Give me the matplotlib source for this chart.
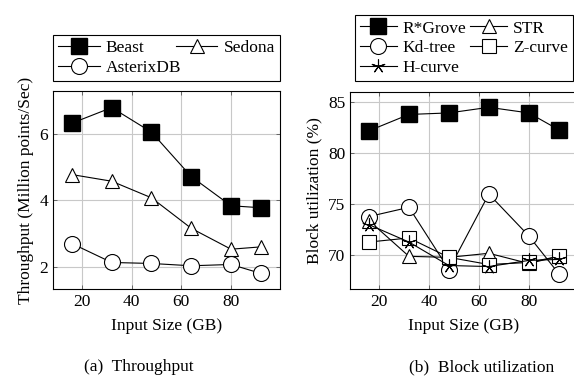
import matplotlib
matplotlib.use("Agg")
import matplotlib.pyplot as plt

plt.rcParams['font.family'] = ['Liberation Serif', 'DejaVu Serif']
plt.rcParams['font.size'] = 12.5

# Data
sizes = [16, 32, 48, 64, 80, 92]
beast = [6.33, 6.80, 6.06, 4.72, 3.84, 3.78]
sedona = [4.78, 4.58, 4.08, 3.16, 2.53, 2.60]
asterix = [2.70, 2.13, 2.10, 2.03, 2.07, 1.80]

rgrove = [82.2, 83.8, 83.95, 84.5, 83.95, 82.3]
kdtree = [73.8, 74.7, 68.6, 76.0, 71.9, 68.2]
strp = [73.4, 69.9, 69.8, 70.2, 69.2, 69.9]
zcurve = [71.3, 71.7, 69.8, 69.1, 69.3, 69.9]
hcurve = [73.0, 71.3, 69.0, 68.9, 69.5, 69.6]

xticks = [20, 40, 60, 80]
yticks_a = [2, 4, 6]
yticks_b = [70, 75, 80, 85]

W, H = 574, 381
fig = plt.figure(figsize=(W / 100, H / 100), dpi=100)

ax1 = fig.add_axes([53 / W, (H - 289) / H, (280 - 53) / W, (289 - 91) / H])
ax2 = fig.add_axes([350 / W, (H - 289) / H, (578 - 350) / W, (289 - 92) / H])

lw = 0.8
big = dict(marker='s', markersize=11.5, markerfacecolor='black', markeredgecolor='black')
def openm(m, ms):
    return dict(marker=m, markersize=ms, markerfacecolor='white', markeredgecolor='black', markeredgewidth=0.8)

hb, = ax1.plot(sizes, beast, color='black', lw=lw, label='Beast', **big)
hs, = ax1.plot(sizes, sedona, color='black', lw=lw, label='Sedona', **openm('^', 10.5))
ha, = ax1.plot(sizes, asterix, color='black', lw=lw, label='AsterixDB', **openm('o', 11.5))

h1, = ax2.plot(sizes, rgrove, color='black', lw=lw, label='R*Grove', **big)
h2, = ax2.plot(sizes, kdtree, color='black', lw=lw, label='Kd-tree', **openm('o', 11.5))
h3, = ax2.plot(sizes, strp, color='black', lw=lw, label='STR', **openm('^', 10.5))
h4, = ax2.plot(sizes, zcurve, color='black', lw=lw, label='Z-curve', **openm('s', 10.5))
h5, = ax2.plot(sizes, hcurve, color='black', lw=lw, label='H-curve',
               marker=(5, 2, 0), markersize=10, markeredgecolor='black', markeredgewidth=0.8)

for ax in (ax1, ax2):
    ax.set_xlim(8.4, 99.7)
    ax.set_xticks(xticks)
    ax.grid(True, color='#c8c8c8', lw=0.8)
    ax.set_axisbelow(True)
    ax.tick_params(direction='in', length=3, width=0.6, top=True, right=True, color='#555555')
    for s in ax.spines.values():
        s.set_linewidth(0.8)
    ax.set_xlabel('Input Size (GB)', labelpad=6)

ax1.set_ylim(1.33, 7.3)
ax1.set_yticks(yticks_a)
ax1.set_ylabel('Throughput (Million points/Sec)', labelpad=4)

ax2.set_ylim(66.7, 86.0)
ax2.set_yticks(yticks_b)
ax2.set_ylabel('Block utilization (%)', labelpad=4)

leg_kw = dict(frameon=True, fancybox=False, edgecolor='black', framealpha=1,
              handletextpad=0.35, borderpad=0.3, labelspacing=0.2, borderaxespad=0)

l1 = fig.legend([hb, ha, hs], ['Beast', 'AsterixDB', 'Sedona'], ncol=2,
                loc='lower left', bbox_to_anchor=(53 / W, (H - 81) / H, (280 - 53) / W, (81 - 27) / H),
                mode='expand', handlelength=2.4, columnspacing=0.5, **leg_kw)
l1.get_frame().set_linewidth(0.8)
l2 = fig.legend([h1, h2, h5, h3, h4], ['R*Grove', 'Kd-tree', 'H-curve', 'STR', 'Z-curve'], ncol=2,
                loc='lower left', bbox_to_anchor=(355 / W, (H - 81) / H, (573 - 355) / W, (81 - 4) / H),
                mode='expand', handlelength=2.1, columnspacing=0.3, **leg_kw)
l2.get_frame().set_linewidth(0.8)

fig.text(139 / W, 1 - 367 / H, '(a)  Throughput', ha='center', va='center')
fig.text(482 / W, 1 - 367 / H, '(b)  Block utilization', ha='center', va='center')

fig.savefig('out.png', dpi=100)
